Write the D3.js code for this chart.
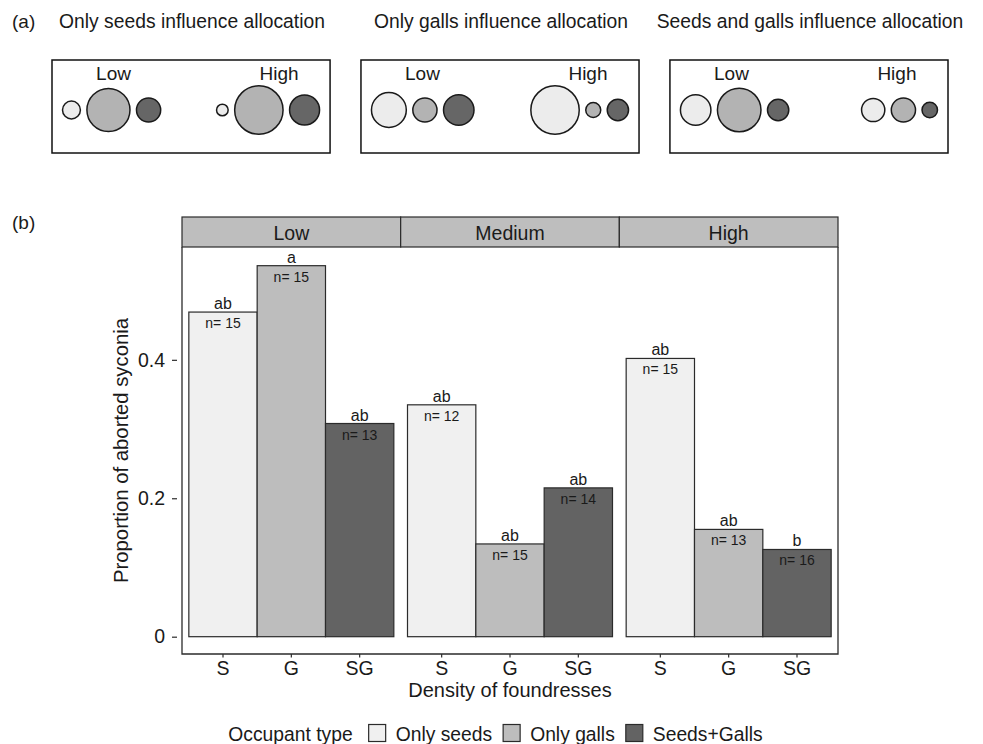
<!DOCTYPE html>
<html>
<head>
<meta charset="utf-8">
<script src="https://cdn.jsdelivr.net/npm/d3@7"></script>
<style>
  html, body { margin: 0; padding: 0; background: #fff; }
  svg { display: block; font-family: "Liberation Sans", Arial, sans-serif; }
</style>
</head>
<body>
<svg id="chart" width="983" height="744"></svg>
<script>
// ---------------- DATA ----------------
// Panel (a): schematic allocation scenarios (relative circle sizes)
const scenarioTitles = ["Only seeds influence allocation", "Only galls influence allocation", "Seeds and galls influence allocation"];
const schematicGroups = ["Low", "High"];
const schematicLowSizes  = [[0.37, 0.89, 0.50], [0.72, 0.50, 0.63], [0.63, 0.90, 0.44]];
const schematicHighSizes = [[0.24, 1.00, 0.62], [1.00, 0.31, 0.44], [0.48, 0.50, 0.32]];

// Panel (b): proportion of aborted syconia
const densities = ["Low", "Medium", "High"];
const occupants = ["S", "G", "SG"];
const occupantNames = ["Only seeds", "Only galls", "Seeds+Galls"];
const lowValues    = [0.469, 0.536, 0.308];
const mediumValues = [0.335, 0.134, 0.215];
const highValues   = [0.402, 0.155, 0.126];
const lowLetters    = ["ab", "a", "ab"];
const mediumLetters = ["ab", "ab", "ab"];
const highLetters   = ["ab", "ab", "b"];
const lowN    = [15, 15, 13];
const mediumN = [12, 15, 14];
const highN   = [15, 13, 16];
const yTicks = [0, 0.2, 0.4];

// ---------------- SETUP ----------------
const svg = d3.select("#chart");
const fills = d3.scaleOrdinal().domain(occupants).range(["#f0f0f0", "#bdbdbd", "#636363"]);
const circleFills = d3.scaleOrdinal().domain(occupants).range(["#ececec", "#b3b3b3", "#666666"]);
const ink = "#1a1a1a";
const lineCol = "#2b2b2b";

// ---------------- PANEL (a) ----------------
svg.append("text").attr("x", 12).attr("y", 28).attr("font-size", 19).attr("fill", ink).text("(a)");

const boxX = d3.scaleBand().domain(scenarioTitles).range([52, 948]).paddingInner(0.1).paddingOuter(0);
const boxTop = 60, boxH = 93, circleY = 110;
const rScale = d3.scaleLinear().domain([0, 1]).range([0, 24.2]);
const edgePad = 10.5, gap = 6.5;

scenarioTitles.forEach((title, i) => {
  const x0 = boxX(title), w = boxX.bandwidth();
  svg.append("text").attr("x", x0 + w / 2 + 1).attr("y", 28).attr("text-anchor", "middle")
    .attr("font-size", 19.3).attr("fill", ink).text(title);
  svg.append("rect").attr("x", x0).attr("y", boxTop).attr("width", w).attr("height", boxH)
    .attr("fill", "none").attr("stroke", "#111").attr("stroke-width", 1.5);

  const groups = [schematicLowSizes[i], schematicHighSizes[i]];
  groups.forEach((sizes, g) => {
    const radii = sizes.map(rScale);
    const total = d3.sum(radii) * 2 + gap * (radii.length - 1);
    let cx = g === 0 ? x0 + edgePad : x0 + w - edgePad - total;
    const centers = radii.map(r => { const c = cx + r; cx += 2 * r + gap; return c; });
    svg.append("text").attr("x", x0 + (g === 0 ? 61.5 : 227)).attr("y", 80)
      .attr("text-anchor", "middle").attr("font-size", 19).attr("fill", ink).text(schematicGroups[g]);
    svg.selectAll(null).data(radii).enter().append("circle")
      .attr("cx", (d, k) => centers[k]).attr("cy", circleY).attr("r", d => d)
      .attr("fill", (d, k) => circleFills(occupants[k]))
      .attr("stroke", "#1a1a1a").attr("stroke-width", 1.5);
  });
});

// ---------------- PANEL (b) ----------------
svg.append("text").attr("x", 12).attr("y", 229).attr("font-size", 19).attr("fill", ink).text("(b)");

const plotL = 182, plotR = 838, stripTop = 217, stripBot = 247, plotBot = 654;
const facetX = d3.scaleBand().domain(densities).range([plotL, plotR]).padding(0);
const y = d3.scaleLinear().domain([-0.025, 0.563]).range([plotBot, stripBot]);

const valuesBy = { Low: lowValues, Medium: mediumValues, High: highValues };
const lettersBy = { Low: lowLetters, Medium: mediumLetters, High: highLetters };
const nBy = { Low: lowN, Medium: mediumN, High: highN };

// strips
densities.forEach(d => {
  svg.append("rect").attr("x", facetX(d)).attr("y", stripTop).attr("width", facetX.bandwidth())
    .attr("height", stripBot - stripTop).attr("fill", "#bebebe").attr("stroke", lineCol).attr("stroke-width", 1.2);
  svg.append("text").attr("x", facetX(d) + facetX.bandwidth() / 2).attr("y", 240)
    .attr("text-anchor", "middle").attr("font-size", 19.5).attr("fill", ink).text(d);
});

// bars per facet
densities.forEach(d => {
  const x = d3.scaleBand().domain(occupants).range([facetX(d), facetX(d) + facetX.bandwidth()])
    .paddingInner(0).paddingOuter(0.1);
  const rows = occupants.map((o, k) => ({ o, v: valuesBy[d][k], letter: lettersBy[d][k], n: nBy[d][k] }));
  const g = svg.append("g");
  g.selectAll("rect").data(rows).enter().append("rect")
    .attr("x", r => x(r.o)).attr("width", x.bandwidth())
    .attr("y", r => y(r.v)).attr("height", r => y(0) - y(r.v))
    .attr("fill", r => fills(r.o)).attr("stroke", lineCol).attr("stroke-width", 1.2);
  g.selectAll("text.letter").data(rows).enter().append("text").attr("class", "letter")
    .attr("x", r => x(r.o) + x.bandwidth() / 2).attr("y", r => y(r.v) - 3)
    .attr("text-anchor", "middle").attr("font-size", 16).attr("fill", ink).text(r => r.letter);
  g.selectAll("text.n").data(rows).enter().append("text").attr("class", "n")
    .attr("x", r => x(r.o) + x.bandwidth() / 2).attr("y", r => y(r.v) + 16)
    .attr("text-anchor", "middle").attr("font-size", 14).attr("fill", ink).text(r => "n= " + r.n);

  // x axis for the facet
  const ax = svg.append("g").attr("transform", `translate(0,${plotBot})`)
    .call(d3.axisBottom(x).tickSize(3.5).tickPadding(4));
  ax.select(".domain").remove();
  ax.selectAll(".tick line").attr("stroke", lineCol).attr("stroke-width", 1.2);
  ax.selectAll(".tick text").attr("font-size", 19.5).attr("fill", ink)
    .attr("font-family", "Liberation Sans, Arial, sans-serif").attr("dy", null).attr("y", 21);
});

// panel outline: left, bottom, right
svg.append("path")
  .attr("d", `M${plotL},${stripBot}V${plotBot}H${plotR}V${stripBot}`)
  .attr("fill", "none").attr("stroke", lineCol).attr("stroke-width", 1.3);

// y axis (ticks detached from the line)
const ay = svg.append("g").attr("transform", `translate(177,0)`)
  .call(d3.axisLeft(y).tickValues(yTicks).tickFormat(d => d === 0 ? "0" : d3.format(".1f")(d))
    .tickSize(5).tickPadding(7));
ay.select(".domain").remove();
ay.selectAll(".tick line").attr("stroke", lineCol).attr("stroke-width", 1.2);
ay.selectAll(".tick text").attr("font-size", 19.5).attr("fill", ink)
  .attr("font-family", "Liberation Sans, Arial, sans-serif");

// axis titles
svg.append("text").attr("transform", `translate(128,${(stripBot + plotBot) / 2}) rotate(-90)`)
  .attr("text-anchor", "middle").attr("font-size", 20.3).attr("fill", ink).text("Proportion of aborted syconia");
svg.append("text").attr("x", (plotL + plotR) / 2).attr("y", 697).attr("text-anchor", "middle")
  .attr("font-size", 20).attr("fill", ink).text("Density of foundresses");

// ---------------- LEGEND ----------------
const legend = svg.append("g");
const legY = 741, keySize = 17;
let lx = 0;
const lt = legend.append("text").attr("x", lx).attr("y", legY).attr("font-size", 19.3).attr("fill", ink).text("Occupant type");
lx += lt.node().getComputedTextLength() + 16;
occupants.forEach((o, k) => {
  legend.append("rect").attr("x", lx).attr("y", legY - 16.5).attr("width", keySize).attr("height", keySize)
    .attr("fill", fills(o)).attr("stroke", lineCol).attr("stroke-width", 1.2);
  lx += keySize + 10;
  const t = legend.append("text").attr("x", lx).attr("y", legY).attr("font-size", 19.3).attr("fill", ink).text(occupantNames[k]);
  lx += t.node().getComputedTextLength() + 11;
});
const legW = lx - 11;
legend.attr("transform", `translate(${495.5 - legW / 2},0)`);
</script>
</body>
</html>
